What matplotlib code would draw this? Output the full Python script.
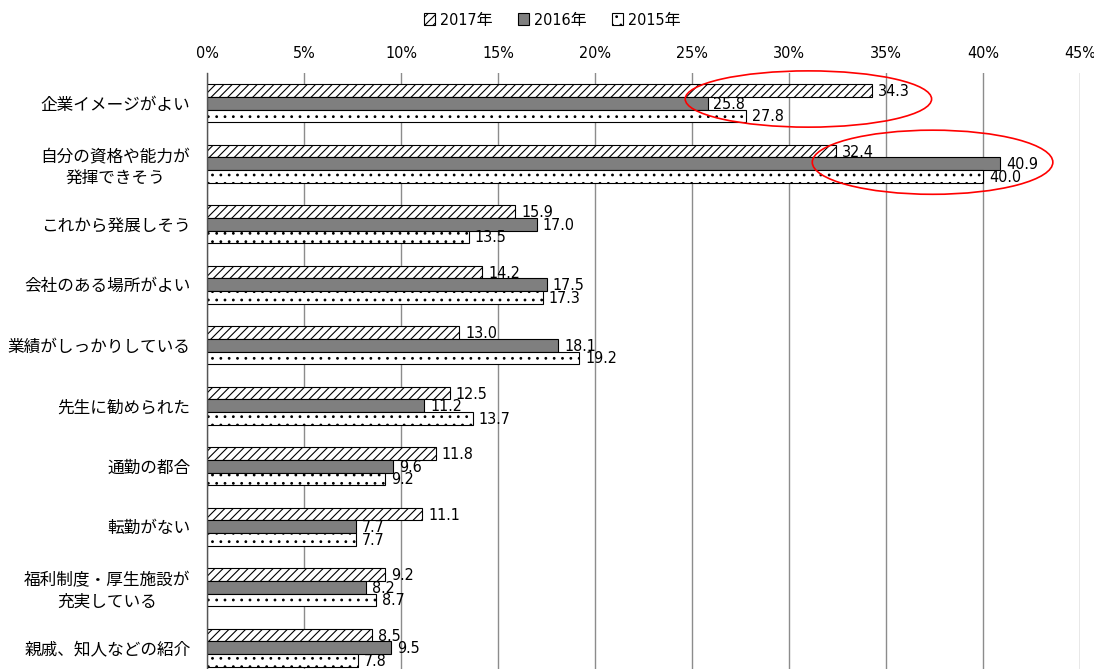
import matplotlib
matplotlib.use('Agg')
import matplotlib.pyplot as plt
from matplotlib.patches import Ellipse, Patch
from matplotlib.ticker import FuncFormatter
import numpy as np

plt.rcParams['font.family'] = ['DejaVu Sans', 'Noto Sans CJK JP']
plt.rcParams['font.stretch'] = 'condensed'
plt.rcParams['hatch.linewidth'] = 0.8

# 就職先を選んだ理由（複数回答, %）
reasons = ['企業イメージがよい', '自分の資格や能力が\n発揮できそう', 'これから発展しそう',
           '会社のある場所がよい', '業績がしっかりしている', '先生に勧められた',
           '通勤の都合', '転勤がない', '福利制度・厚生施設が\n充実している', '親戚、知人などの紹介']
years = ['2017年', '2016年', '2015年']
v2017 = [34.3, 32.4, 15.9, 14.2, 13.0, 12.5, 11.8, 11.1, 9.2, 8.5]
v2016 = [25.8, 40.9, 17.0, 17.5, 18.1, 11.2, 9.6, 7.7, 8.2, 9.5]
v2015 = [27.8, 40.0, 13.5, 17.3, 19.2, 13.7, 9.2, 7.7, 8.7, 7.8]

styles = [dict(facecolor='white', hatch='////'),
          dict(facecolor='#7f7f7f', hatch=None),
          dict(facecolor='white', hatch='..')]

fig = plt.figure(figsize=(10.94, 6.69), dpi=100)
ax = fig.add_axes([207 / 1094, 1 - 678 / 669, 873 / 1094, (678 - 73) / 669])

y = np.arange(len(reasons))
h = 0.207
for k, (vals, st) in enumerate(zip([v2017, v2016, v2015], styles)):
    pos = y + (k - 1) * h
    ax.barh(pos, vals, height=h, edgecolor='black', linewidth=0.8, label=years[k], **st)
    for p, v in zip(pos, vals):
        ax.text(v + 0.3, p + 0.02, f'{v:.1f}', va='center', ha='left', fontsize=11.5, zorder=3)

ax.set_xlim(0, 45)
ax.set_ylim(9.5, -0.5)
ax.set_xticks(np.arange(0, 46, 5))
ax.xaxis.set_major_formatter(FuncFormatter(lambda v, _: f'{v:.0f}%'))
ax.xaxis.tick_top()
ax.tick_params(axis='x', length=0, pad=9, labelsize=11.5)
ax.set_yticks(y)
ax.set_yticklabels(reasons, fontsize=12, family=['Noto Sans CJK JP'], multialignment='center',
                   linespacing=1.3)
ax.tick_params(axis='y', length=0, pad=12)
ax.grid(axis='x', color='#8c8c8c', linewidth=1.0)
ax.set_axisbelow(True)
for s in ['top', 'right', 'bottom']:
    ax.spines[s].set_visible(False)
ax.spines['left'].set_color('#555555')
ax.spines['left'].set_linewidth(1.0)

# 注目したい項目を赤い楕円で囲む
ax.add_patch(Ellipse((31.0, -0.07), 12.7, 0.93, fill=False, edgecolor='red', linewidth=1.2,
                     clip_on=False, zorder=5))
ax.add_patch(Ellipse((37.4, 0.975), 12.4, 1.06, fill=False, edgecolor='red', linewidth=1.2,
                     clip_on=False, zorder=5))

handles = [Patch(edgecolor='black', linewidth=0.8, **st) for st in styles]
fig.legend(handles, years, loc='center', bbox_to_anchor=(552 / 1094, 1 - 20 / 669), ncol=3,
           frameon=False, fontsize=11.5, handlelength=0.7, handleheight=0.7,
           handletextpad=0.3, columnspacing=1.6)

fig.savefig('out.png', dpi=100)
